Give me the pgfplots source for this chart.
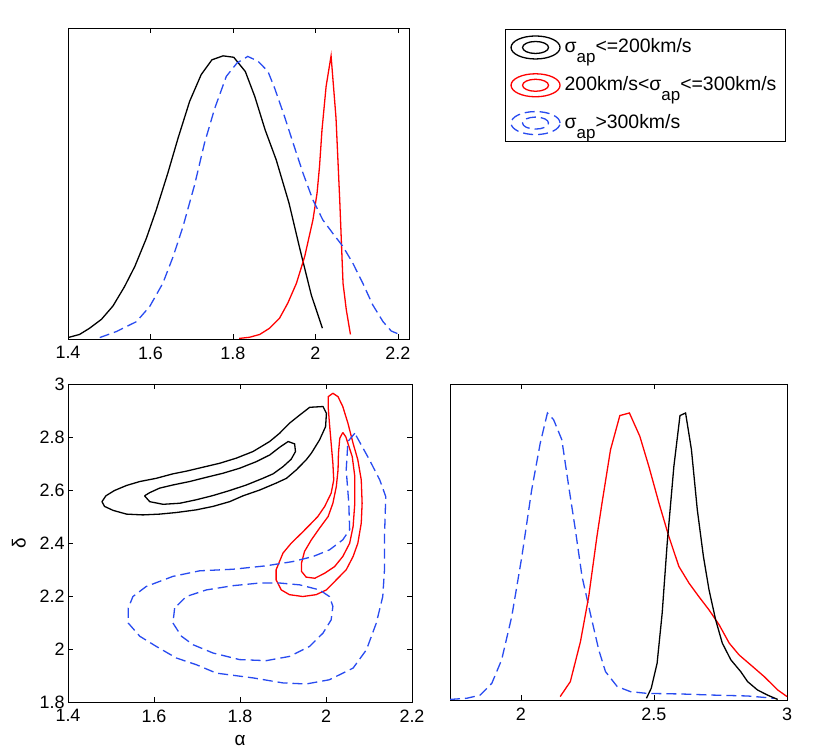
\documentclass[border=0pt]{standalone}
\usepackage{pgfplots}
\pgfplotsset{compat=1.18}
\usepackage{fontspec}
\setmainfont{Liberation Sans}
\definecolor{mblue}{RGB}{40,75,240}
\newcommand{\ap}{\raisebox{-10bp}{\fontsize{17}{17}\selectfont ap}}
\begin{document}
\begin{tikzpicture}
\path[use as bounding box] (0bp,0bp) rectangle (830bp,755bp);
\pgfplotsset{
  every axis/.append style={
    scale only axis,
    /pgf/number format/assume math mode=true,
    tick align=inside, xtick pos=both, ytick pos=both,
    major tick length=5bp,
    axis line style={line width=0.8bp},
    every tick/.style={black, line width=0.6bp},
    ticklabel style={font=\fontsize{18}{21}\selectfont},
    xticklabel style={yshift=-4bp},
    label style={font=\fontsize{19}{22}\selectfont},
  },
  blk/.style={black, line width=1.3bp},
  rd/.style={red, line width=1.3bp},
  bl/.style={mblue, line width=1.3bp, dash pattern=on 10bp off 5bp},
}
% ---- top-left: alpha marginal
\begin{axis}[at={(68bp,416bp)}, anchor=south west, width=341bp, height=311bp,
  xmin=1.4, xmax=2.227, ymin=0, ymax=1.094, ytick=\empty,
  xtick={1.4,1.6,1.8,2,2.2},
  legend image code/.code={
    \draw[#1] (24.5bp,-1bp) ellipse [x radius=24.5bp, y radius=11.5bp];
    \draw[#1] (24.5bp,-1bp) ellipse [x radius=13bp, y radius=6bp];},
  legend cell align=left,
  legend style={at={(1.2815,0.997)}, anchor=north west, draw=black, line width=0.8bp,
    font=\fontsize{19.5}{22}\selectfont, inner xsep=5bp, inner ysep=6bp,
    row sep=13.5bp, nodes={inner xsep=4bp, inner ysep=1bp}},
]
\addplot[blk] coordinates {(1.400,0.005)(1.428,0.016)(1.4525,0.038)(1.481,0.069)(1.509,0.116)(1.537,0.184)(1.562,0.255)(1.590,0.354)(1.614,0.454)(1.642,0.583)(1.667,0.707)(1.695,0.836)(1.723,0.930)(1.749,0.982)(1.776,0.996)(1.802,0.991)(1.830,0.941)(1.853,0.853)(1.878,0.736)(1.905,0.630)(1.936,0.478)(1.962,0.319)(1.990,0.155)(2.017,0.038)};
\addlegendentry{σ\ap<=200km/s}
\addplot[rd] coordinates {(1.815,0.002)(1.840,0.006)(1.865,0.016)(1.889,0.038)(1.913,0.073)(1.933,0.126)(1.954,0.196)(1.974,0.290)(1.994,0.419)(2.004,0.513)(2.010,0.607)(2.016,0.736)(2.026,0.889)(2.038,0.996)(2.050,0.777)(2.059,0.489)(2.067,0.196)(2.075,0.102)(2.085,0.016)};
\addlegendentry{200km/s<σ\ap<=300km/s}
\addplot[bl] coordinates {(1.477,0.005)(1.517,0.026)(1.566,0.061)(1.598,0.114)(1.630,0.196)(1.655,0.290)(1.679,0.396)(1.707,0.542)(1.731,0.689)(1.756,0.812)(1.784,0.924)(1.810,0.971)(1.836,0.994)(1.861,0.977)(1.885,0.941)(1.901,0.883)(1.925,0.783)(1.946,0.689)(1.970,0.583)(1.994,0.489)(2.018,0.419)(2.042,0.372)(2.067,0.325)(2.091,0.266)(2.115,0.196)(2.139,0.120)(2.164,0.061)(2.184,0.028)(2.204,0.016)};
\addlegendentry{σ\ap>300km/s}
\end{axis}
% ---- bottom-left: alpha-delta contours
\begin{axis}[at={(68bp,53bp)}, anchor=south west, width=344bp, height=318bp,
  xmin=1.4, xmax=2.2, ymin=1.8, ymax=3,
  xtick={1.4,1.6,1.8,2,2.2}, ytick={1.8,2,2.2,2.4,2.6,2.8,3},
  xlabel={α}, ylabel={δ},
  xlabel style={yshift=-6bp}, ylabel style={yshift=7bp},
]
\addplot[blk] coordinates {(1.479,2.556)(1.488,2.578)(1.508,2.598)(1.536,2.617)(1.567,2.632)(1.605,2.644)(1.644,2.661)(1.675,2.671)(1.714,2.686)(1.753,2.701)(1.791,2.720)(1.830,2.745)(1.869,2.783)(1.892,2.814)(1.915,2.852)(1.939,2.883)(1.962,2.912)(1.993,2.915)(2.001,2.889)(1.999,2.839)(1.985,2.789)(1.966,2.739)(1.954,2.714)(1.931,2.676)(1.908,2.644)(1.884,2.626)(1.846,2.600)(1.807,2.578)(1.776,2.556)(1.737,2.538)(1.698,2.525)(1.652,2.515)(1.613,2.509)(1.574,2.506)(1.536,2.509)(1.505,2.523)(1.485,2.538)(1.479,2.556)};
\addplot[blk] coordinates {(1.578,2.578)(1.590,2.590)(1.613,2.607)(1.644,2.619)(1.683,2.632)(1.722,2.648)(1.760,2.663)(1.799,2.682)(1.838,2.707)(1.869,2.732)(1.892,2.761)(1.912,2.783)(1.927,2.774)(1.929,2.745)(1.919,2.716)(1.900,2.688)(1.877,2.661)(1.853,2.644)(1.815,2.619)(1.776,2.598)(1.737,2.579)(1.698,2.563)(1.660,2.550)(1.621,2.546)(1.590,2.556)(1.578,2.578)};
\addplot[rd] coordinates {(2.016,2.965)(2.005,2.952)(2.005,2.915)(2.008,2.852)(2.012,2.776)(2.016,2.701)(2.018,2.638)(2.012,2.588)(1.997,2.538)(1.981,2.500)(1.962,2.468)(1.943,2.437)(1.919,2.399)(1.900,2.362)(1.884,2.299)(1.884,2.261)(1.896,2.223)(1.915,2.205)(1.946,2.198)(1.977,2.205)(2.001,2.223)(2.024,2.261)(2.047,2.299)(2.063,2.349)(2.074,2.399)(2.082,2.475)(2.084,2.550)(2.082,2.638)(2.074,2.714)(2.063,2.776)(2.051,2.852)(2.039,2.915)(2.028,2.952)(2.016,2.965)};
\addplot[rd] coordinates {(2.039,2.817)(2.032,2.795)(2.029,2.739)(2.028,2.676)(2.024,2.613)(2.016,2.550)(2.005,2.500)(1.985,2.456)(1.966,2.412)(1.950,2.368)(1.943,2.324)(1.943,2.293)(1.954,2.271)(1.974,2.267)(1.997,2.286)(2.020,2.311)(2.039,2.349)(2.055,2.399)(2.063,2.462)(2.067,2.550)(2.067,2.651)(2.061,2.726)(2.051,2.776)(2.046,2.801)(2.039,2.817)};
\addplot[bl] coordinates {(2.067,2.814)(2.051,2.783)(2.047,2.676)(2.053,2.550)(2.055,2.450)(2.039,2.412)(2.008,2.374)(1.970,2.349)(1.923,2.330)(1.861,2.314)(1.784,2.301)(1.706,2.295)(1.644,2.274)(1.582,2.236)(1.551,2.198)(1.540,2.154)(1.540,2.098)(1.567,2.048)(1.605,2.010)(1.652,1.966)(1.698,1.941)(1.745,1.909)(1.830,1.891)(1.900,1.872)(1.954,1.868)(2.008,1.884)(2.063,1.928)(2.094,1.997)(2.117,2.098)(2.132,2.198)(2.136,2.299)(2.136,2.425)(2.139,2.575)(2.125,2.638)(2.101,2.714)(2.082,2.770)(2.067,2.814)};
\addplot[bl] coordinates {(1.648,2.154)(1.644,2.098)(1.664,2.048)(1.691,2.016)(1.737,1.985)(1.799,1.960)(1.861,1.956)(1.915,1.972)(1.962,2.010)(1.993,2.060)(2.012,2.110)(2.016,2.161)(2.008,2.198)(1.985,2.223)(1.939,2.242)(1.892,2.249)(1.846,2.249)(1.784,2.239)(1.722,2.223)(1.675,2.198)(1.648,2.154)};
\end{axis}
% ---- bottom-right: delta marginal
\begin{axis}[at={(450bp,55bp)}, anchor=south west, width=337bp, height=316bp,
  xmin=1.734, xmax=3, ymin=0, ymax=1.101, ytick=\empty,
  xtick={2,2.5,3},
]
\addplot[bl] coordinates {(1.734,0.002)(1.797,0.006)(1.847,0.017)(1.891,0.058)(1.928,0.140)(1.966,0.291)(2.004,0.500)(2.041,0.733)(2.073,0.895)(2.100,1.0)(2.123,0.977)(2.154,0.907)(2.180,0.744)(2.205,0.593)(2.230,0.430)(2.261,0.302)(2.293,0.174)(2.318,0.099)(2.362,0.047)(2.412,0.029)(2.475,0.023)(2.600,0.021)(2.726,0.017)(2.852,0.014)(2.952,0.006)};
\addplot[rd] coordinates {(2.148,0.012)(2.186,0.064)(2.224,0.203)(2.255,0.360)(2.286,0.570)(2.305,0.686)(2.337,0.872)(2.372,0.991)(2.408,1.0)(2.447,0.919)(2.481,0.814)(2.519,0.686)(2.556,0.570)(2.594,0.465)(2.632,0.407)(2.669,0.360)(2.707,0.314)(2.745,0.262)(2.783,0.198)(2.820,0.157)(2.864,0.122)(2.915,0.081)(2.965,0.035)(3.0,0.012)};
\addplot[blk] coordinates {(2.472,0.006)(2.490,0.041)(2.512,0.128)(2.531,0.302)(2.550,0.547)(2.575,0.814)(2.598,0.991)(2.619,1.0)(2.641,0.872)(2.663,0.663)(2.686,0.500)(2.707,0.384)(2.732,0.279)(2.757,0.198)(2.789,0.140)(2.826,0.099)(2.852,0.064)(2.889,0.035)(2.927,0.017)(2.965,0.002)};
\end{axis}
\end{tikzpicture}
\end{document}
